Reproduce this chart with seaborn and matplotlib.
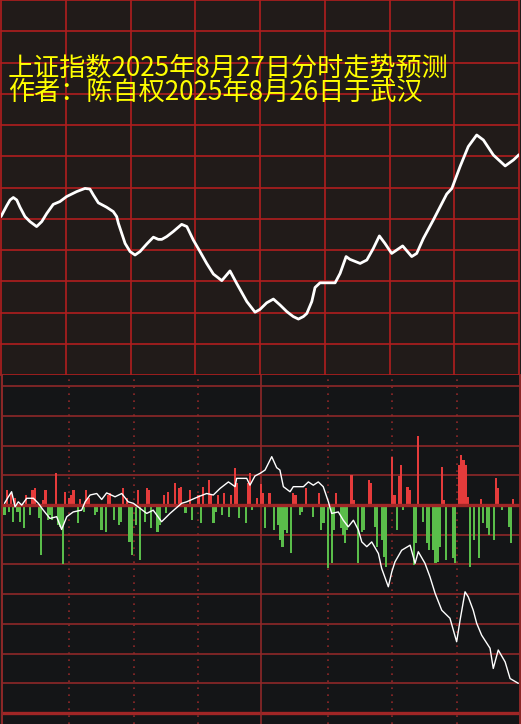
import numpy as np
import pandas as pd
import matplotlib
matplotlib.use("Agg")
import matplotlib.pyplot as plt
import seaborn as sns

# ---------------- data ----------------
title_line1 = "上证指数2025年8月27日分时走势预测"
title_line2 = "作者：陈自权2025年8月26日于武汉"

# forecast curve (top panel): minute after open, level in grid units
forecast_minute = [0, 2.6, 4.2, 5.7, 7.3, 8.8, 11.1, 13.4, 16.5, 18.9, 21.2, 24.2, 27.3,
                   30.4, 35.1, 38.9, 41.2, 42.8, 45.1, 48.9, 52.0, 53.6, 54.4, 57.5, 59.8,
                   62.1, 64.4, 67.5, 70.6, 72.9, 74.5, 76.8, 79.8, 83.7, 86.1, 89.1, 92.2,
                   95.3, 98.4, 102.3, 106.1, 109.2, 113.9, 117.7, 120.0, 123.1, 126.2, 129.3,
                   132.4, 135.4, 137.8, 140.1, 141.7, 144.0, 145.5, 147.8, 154.8, 157.1,
                   159.9, 161.7, 166.4, 169.5, 172.5, 175.3, 177.9, 181.0, 186.1, 190.3,
                   192.6, 195.7, 200.3, 206.5, 208.9, 212.7, 216.5, 220.4, 223.5, 228.1,
                   233.6, 237.4, 240]
forecast_level = [5.07, 5.41, 5.60, 5.68, 5.60, 5.37, 5.07, 4.91, 4.75, 4.91, 5.17, 5.46, 5.55,
                  5.71, 5.87, 5.97, 5.95, 5.76, 5.51, 5.37, 5.23, 5.07, 4.85, 4.21, 3.95,
                  3.84, 3.95, 4.19, 4.41, 4.34, 4.34, 4.43, 4.59, 4.82, 4.75, 4.32, 3.95,
                  3.57, 3.23, 3.02, 3.33, 2.93, 2.35, 2.01, 2.10, 2.31, 2.43, 2.24,
                  2.03, 1.87, 1.79, 1.87, 1.97, 2.35, 2.80, 2.95, 2.95, 3.25,
                  3.79, 3.70, 3.57, 3.68, 4.05, 4.45, 4.21, 3.89, 4.13, 3.79,
                  3.89, 4.37, 4.96, 5.79, 5.97, 6.67, 7.31, 7.68, 7.52, 7.04,
                  6.69, 6.88, 7.05]

# lower panel white line
flow_minute = [0, 1.8, 3.3, 4.9, 6.4, 8.0, 10.3, 13.4, 15.7, 18.0, 21.1, 24.2, 26.5, 28.9,
               31.9, 35.8, 37.4, 39.7, 42.8, 45.1, 47.4, 51.3, 54.4, 57.4, 59.8, 62.9, 66.0,
               69.0, 72.9, 76.8, 82.2, 84.5, 89.9, 93.8, 96.9, 100.0, 103.9, 107.0, 107.7,
               112.4, 113.9, 116.2, 118.6, 120.9, 124.0, 126.3, 127.8, 129.4, 132.5, 134.0,
               138.7, 141.0, 143.3, 145.6, 147.9, 150.3, 151.8, 154.9, 157.2, 159.5, 161.9,
               164.2, 165.8, 168.1, 170.4, 173.5, 175.0, 178.1, 179.7, 181.2, 184.3, 188.2,
               190.5, 192.0, 195.1, 197.4, 199.8, 202.9, 206.7, 209.8, 211.4, 213.7, 215.2,
               217.5, 219.1, 221.4, 225.3, 226.8, 229.1, 232.3, 234.6, 238.4]
flow_value = [0.06, 0.28, 0.45, -0.06, 0.11, 0.00, 0.23, 0.23, 0.06, -0.17, -0.45, -0.39, -0.82, -0.39,
              -0.23, -0.17, 0.11, 0.34, 0.39, 0.19, 0.41, 0.28, 0.39, 0.11, 0.06, -0.11, -0.28,
              -0.17, -0.56, -0.28, 0.06, 0.11, 0.28, 0.39, 0.34, 0.56, 0.78, 0.62, 0.90,
              0.90, 0.67, 0.98, 1.07, 1.18, 1.63, 1.26, 1.18, 0.62, 0.45, 0.62,
              0.62, 0.78, 0.67, 0.78, 0.62, 0.11, -0.28, -0.23, -0.51, -0.73, -0.51,
              -0.84, -1.24, -1.40, -1.24, -1.63, -2.13, -2.75, -2.25, -1.91, -1.52, -1.35,
              -1.96, -1.57, -1.96, -2.41, -2.97, -3.54, -3.81, -4.60, -3.87, -2.92, -3.09,
              -3.54, -3.98, -4.38, -4.82, -5.50, -4.88, -5.28, -5.84, -6.00]

# red (positive) bars
buy_minute = [1, 3, 5, 10, 13, 14, 18, 19, 24, 28, 30, 31, 32, 35, 38, 39, 48, 49, 55, 57, 62, 66,
              67, 74, 76, 79, 81, 82, 86, 90, 92, 95, 96, 99, 102, 105, 107, 108, 113, 114, 117,
              119, 120, 123, 134, 135, 140, 146, 154, 161, 162, 169, 170, 180, 181, 183, 184,
              187, 188, 192, 203, 204, 211, 212, 213, 214, 215, 221, 228, 229, 236]
buy_volume = [0.51, 0.40, 0.24, 0.34, 0.51, 0.57, 0.17, 0.51, 1.08, 0.44, 0.24, 0.34, 0.51, 0.20,
              0.51, 0.24, 0.34, 0.40, 0.57, 0.24, 0.51, 0.57, 0.50, 0.34, 0.44, 0.74, 0.57, 0.61,
              0.51, 0.34, 0.61, 0.84, 0.34, 0.34, 0.40, 0.34, 1.25, 0.74, 0.74, 1.08, 0.24,
              0.71, 0.40, 0.40, 0.40, 0.34, 0.57, 0.40, 0.40, 1.01, 0.17, 0.84, 0.74, 1.62, 0.34,
              0.98, 1.35, 0.61, 0.50, 2.32, 1.28, 0.17, 1.35, 1.68, 1.52, 1.35, 0.27, 0.20,
              0.91, 0.57, 0.20]

# green (negative) bars
sell_minute = [0, 2, 4, 6, 7, 9, 12, 16, 17, 20, 21, 22, 25, 26, 27, 34, 37, 42, 43, 45, 47, 51,
               53, 54, 58, 59, 61, 63, 65, 68, 71, 72, 75, 84, 87, 91, 97, 98, 101, 104, 109,
               112, 115, 121, 125, 127, 128, 129, 130, 131, 133, 137, 138, 143, 147, 148, 150,
               152, 153, 156, 157, 158, 159, 164, 166, 167, 172, 173, 175, 176, 177, 182, 185,
               190, 191, 194, 196, 197, 199, 200, 201, 202, 205, 208, 209, 216, 218, 220, 222,
               224, 225, 227, 231, 234, 235]
sell_volume = [-0.34, -0.24, -0.57, -0.24, -0.57, -0.77, -0.34, -0.44, -1.68, -0.51, -0.34, -0.51,
               -0.67, -0.74, -1.99, -0.61, -0.24, -0.34, -0.24, -0.84, -0.91, -0.51, -0.67, -0.57,
               -1.25, -1.68, -0.67, -1.85, -0.57, -0.77, -0.91, -0.67, -0.27, -0.27, -0.51, -0.61,
               -0.61, -0.24, -0.34, -0.40, -0.44, -0.61, -0.17, -0.77, -0.84, -0.67, -1.18, -1.41,
               -0.84, -0.94, -1.62, -0.34, -0.24, -0.40, -0.84, -0.61, -2.12, -1.95, -0.84, -0.77,
               -1.00, -1.28, -0.84, -1.95, -0.91, -0.84, -0.74, -1.41, -1.18, -1.75, -2.09, -0.84,
               -0.17, -2.02, -1.28, -0.57, -1.28, -1.52, -1.52, -1.95, -1.90, -1.41, -1.85, -1.78,
               -1.95, -2.09, -1.18, -1.78, -0.61, -0.77, -1.01, -1.18, -0.17, -0.74, -1.28]

# ---------------- style ----------------
TOP_BG = "#211b19"
BOT_BG = "#141517"
TOP_GRID = "#b01e1e"
BOT_GRID = "#8e2828"
RED = "#e53b3b"
GREEN = "#5abd4a"
YELLOW = "#ffff00"

sns.set_theme(style="dark")
plt.rcParams['font.family'] = ['Noto Sans CJK SC', 'DejaVu Sans']

W, H = 521, 724
fig = plt.figure(figsize=(W / 100, H / 100), dpi=100, facecolor=TOP_BG)
ax_top = fig.add_axes([1 / W, 349 / H, 518 / W, 375 / H])
ax_bot = fig.add_axes([2 / W, 0, 518 / W, 349 / H])

# ---- top panel ----
ax_top.set_facecolor(TOP_BG)
ax_top.set_xlim(0, 240)
ax_top.set_ylim(0, 12)
for v in range(0, 13):
    ax_top.axhline(v, color=TOP_GRID, lw=1.2, zorder=1, clip_on=False)
for m in range(0, 241, 30):
    ax_top.axvline(m, color=TOP_GRID, lw=1.2, zorder=1, clip_on=False)
sns.lineplot(x=forecast_minute, y=forecast_level, color="white", lw=2.0,
             ax=ax_top, zorder=3)
ax_top.set_xticks([]); ax_top.set_yticks([])
ax_top.set_xlabel(""); ax_top.set_ylabel("")
for s in ax_top.spines.values():
    s.set_visible(False)

# ---- bottom panel ----
ax_bot.set_facecolor(BOT_BG)
sns.barplot(x=buy_minute, y=buy_volume, native_scale=True, color=RED, saturation=1,
            width=1.0, errorbar=None, linewidth=0, ax=ax_bot, zorder=2)
sns.barplot(x=sell_minute, y=sell_volume, native_scale=True, color=GREEN, saturation=1,
            width=1.0, errorbar=None, linewidth=0, ax=ax_bot, zorder=2)
ax_bot.set_xlim(-1.16, 239.2)
ax_bot.set_ylim(-7.37, 4.38)
for v in range(-7, 5):
    thick = v in (0, -7)
    ax_bot.axhline(v, color=BOT_GRID if not thick else "#a02626",
                   lw=2.4 if thick else 1.2, zorder=3 if v == 0 else 1)
for m in (30, 60, 90, 150, 180, 210):
    ax_bot.axvline(m, color=BOT_GRID, lw=1.2, ls=(0, (1, 3.2)), zorder=1)
ax_bot.axvline(119, color=BOT_GRID, lw=1.2, zorder=1)
sns.lineplot(x=flow_minute, y=flow_value, color="white", lw=1.0, ax=ax_bot, zorder=4)
ax_bot.set_xticks([]); ax_bot.set_yticks([])
ax_bot.set_xlabel(""); ax_bot.set_ylabel("")
for k, s in ax_bot.spines.items():
    if k in ("left", "right"):
        s.set_visible(True)
        s.set_color(BOT_GRID)
        s.set_linewidth(1.4)
    else:
        s.set_visible(False)

# ---- titles ----
fig.text(8 / W, 1 - 75.5 / H, title_line1, color=YELLOW, fontsize=18.8,
         ha="left", va="baseline", family=['Noto Sans CJK SC', 'DejaVu Sans'])
fig.text(8 / W, 1 - 100 / H, title_line2, color=YELLOW, fontsize=18.8,
         ha="left", va="baseline", family=['Noto Sans CJK SC', 'DejaVu Sans'])

fig.savefig("out.png", dpi=100, facecolor=fig.get_facecolor())
